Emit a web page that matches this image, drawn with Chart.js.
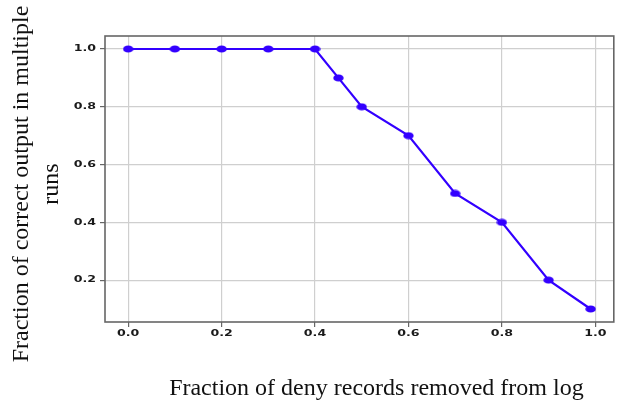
<!DOCTYPE html>
<html>
<head>
<meta charset="utf-8">
<script src="https://cdn.jsdelivr.net/npm/chart.js@4/dist/chart.umd.min.js"></script>
<style>
  html, body { margin: 0; padding: 0; background: #fff; }
  canvas { display: block; }
</style>
</head>
<body>
<canvas id="chart" width="621" height="402"></canvas>
<script>
// data
const xValues = [0.0, 0.1, 0.2, 0.3, 0.4, 0.45, 0.5, 0.6, 0.7, 0.8, 0.9, 0.99];
const yValues = [1.0, 1.0, 1.0, 1.0, 1.0, 0.9, 0.8, 0.7, 0.5, 0.4, 0.2, 0.1];
const xTicks = [0.0, 0.2, 0.4, 0.6, 0.8, 1.0];
const yTicks = [0.2, 0.4, 0.6, 0.8, 1.0];
const xTitle = 'Fraction of deny records removed from log';
const yTitle = ['Fraction of correct output in multiple', 'runs'];

const lineColor = '#3300ff';

// slightly flattened marker, like the stretched original
const dot = document.createElement('canvas');
dot.width = 11; dot.height = 8;
const dctx = dot.getContext('2d');
dctx.fillStyle = lineColor;
dctx.beginPath();
dctx.ellipse(5.5, 4, 5.2, 3.6, 0, 0, Math.PI * 2);
dctx.fill();

// wide tick labels
function drawWide(ctx, text, x, y, align) {
    ctx.save();
    ctx.translate(x, y);
    ctx.scale(1.4, 1);
    ctx.textAlign = align;
    ctx.fillText(text, 0, 0);
    ctx.restore();
}

// frame, tick labels and axis titles (titles sit a bit off-centre in the original)
const framePlugin = {
    id: 'frame',
    beforeDatasetsDraw(chart) {
        const { ctx, chartArea: a } = chart;
        ctx.save();
        ctx.strokeStyle = '#666';
        ctx.lineWidth = 1.6;
        ctx.strokeRect(a.left, a.top, a.right - a.left, a.bottom - a.top);
        ctx.restore();
    },
    afterDraw(chart) {
        const { ctx, chartArea: a } = chart;
        const sx = chart.scales.x, sy = chart.scales.y;
        ctx.save();
        ctx.font = 'bold 9px "DejaVu Sans"';
        ctx.fillStyle = '#1a1a1a';
        ctx.textBaseline = 'middle';
        xTicks.forEach(v => drawWide(ctx, v.toFixed(1), sx.getPixelForValue(v), a.bottom + 12, 'center'));
        yTicks.forEach(v => drawWide(ctx, v.toFixed(1), a.left - 9, sy.getPixelForValue(v), 'right'));

        ctx.font = '24px "Liberation Serif"';
        ctx.fillStyle = '#111';
        ctx.textAlign = 'center';
        ctx.textBaseline = 'alphabetic';
        ctx.fillText(xTitle, (a.left + a.right) / 2 + 17, 395);

        ctx.translate(0, (a.top + a.bottom) / 2 + 5);
        ctx.rotate(-Math.PI / 2);
        yTitle.forEach((t, i) => ctx.fillText(t, 0, 28 + i * 30));
        ctx.restore();
    }
};

const gridOpts = {
    color: '#cfcfcf',
    lineWidth: 1.2,
    tickLength: 5,
    tickColor: '#666',
    tickWidth: 1.2
};

new Chart(document.getElementById('chart'), {
    type: 'line',
    data: {
        datasets: [{
            data: xValues.map((x, i) => ({ x: x, y: yValues[i] })),
            borderColor: lineColor,
            backgroundColor: lineColor,
            borderWidth: 2.2,
            pointStyle: dot,
            pointRadius: 5,
            fill: false,
            tension: 0
        }]
    },
    options: {
        responsive: false,
        animation: false,
        layout: { padding: { top: 36, right: 6, left: 0, bottom: 0 } },
        plugins: { legend: { display: false }, tooltip: { enabled: false } },
        scales: {
            x: {
                type: 'linear',
                min: -0.0495,
                max: 1.0395,
                grid: gridOpts,
                border: { display: false },
                ticks: { color: 'transparent' },
                afterBuildTicks: s => { s.ticks = xTicks.map(v => ({ value: v })); },
                afterFit: s => { s.height = 80; }
            },
            y: {
                type: 'linear',
                min: 0.055,
                max: 1.045,
                grid: gridOpts,
                border: { display: false },
                ticks: { color: 'transparent' },
                afterBuildTicks: s => { s.ticks = yTicks.map(v => ({ value: v })); },
                afterFit: s => { s.width = 105; }
            }
        }
    },
    plugins: [framePlugin]
});
</script>
</body>
</html>
